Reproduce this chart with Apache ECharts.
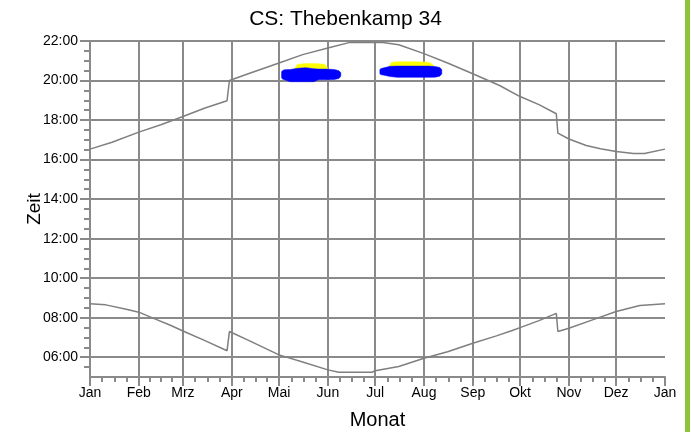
<!DOCTYPE html>
<html><head><meta charset="utf-8">
<script src="https://cdn.jsdelivr.net/npm/echarts@6/dist/echarts.min.js"></script>
<style>html,body{margin:0;padding:0;background:#fff}#c{width:691px;height:432px}</style>
</head><body><div id="c"></div>
<script>
// Month boundaries (day of year) and their labels
const monthStarts = [0,31,59,90,120,151,181,212,243,273,304,334,365];
const monthLabels = ['Jan','Feb','Mrz','Apr','Mai','Jun','Jul','Aug','Sep','Okt','Nov','Dez','Jan'];
const hourTicks = [6,8,10,12,14,16,18,20,22];

// Sunset (upper curve), hours
const sunsetDays  = [0,14,31,45,59,73,87,88.5,100,120,135,151,165,186,196,212,227,243,260,273,285,296,297,304,315,324,334,345,352,365];
const sunsetHours = [16.53,16.88,17.39,17.76,18.18,18.61,18.98,20.00,20.33,20.89,21.31,21.65,21.93,21.93,21.81,21.36,20.89,20.34,19.75,19.19,18.78,18.32,17.34,17.04,16.71,16.55,16.41,16.31,16.31,16.53];

// Sunrise (lower curve), hours
const sunriseDays  = [0,10,23,31,40,51,59,73,87,88.5,100,120,135,151,158,179,181,196,212,227,243,258,268,273,285,296,297,304,319,334,349,365];
const sunriseHours = [8.70,8.65,8.43,8.28,7.98,7.62,7.33,6.84,6.33,7.30,6.88,6.12,5.76,5.36,5.24,5.24,5.32,5.53,5.95,6.28,6.71,7.08,7.35,7.50,7.85,8.22,7.30,7.47,7.89,8.31,8.62,8.70];

// Shadow periods: May/June
const blueADays  = [121.6,122.3,123.5,127,132,137,142,145,150,155,158,159.2];
const blueAStart = [20.14,20.07,20.04,19.94,19.94,19.94,19.94,20.04,20.04,20.05,20.10,20.22];
const blueAEnd   = [20.44,20.51,20.55,20.56,20.62,20.65,20.60,20.58,20.58,20.56,20.50,20.40];
const yellowADays  = [130,131.5,135,140,145,149,151];
const yellowAStart = [20.55,20.56,20.60,20.62,20.58,20.57,20.56];
const yellowAEnd   = [20.62,20.80,20.85,20.86,20.85,20.82,20.62];

// Shadow periods: July/August
const blueBDays  = [184,184.8,186,190.5,195,205,215,219,222,223.3];
const blueBStart = [20.34,20.29,20.28,20.20,20.16,20.16,20.16,20.17,20.22,20.33];
const blueBEnd   = [20.56,20.61,20.63,20.72,20.73,20.73,20.73,20.71,20.66,20.56];
const yellowBDays  = [190,191.5,195,205,215,218];
const yellowBStart = [20.70,20.72,20.73,20.73,20.73,20.72];
const yellowBEnd   = [20.75,20.92,20.95,20.95,20.93,20.78];

// minor tick positions (quarter months, half hours)
const minorDays = [];
for (let i = 0; i < monthStarts.length - 1; i++) {
  const a = monthStarts[i], b = monthStarts[i+1];
  for (let k = 1; k < 4; k++) minorDays.push(a + (b - a) * k / 4);
}
const halfHours = [];
for (let h = 5.5; h < 22; h += 0.5) if (h % 2 !== 0) halfHours.push(h);

const pair = (xs, ys) => xs.map((x, i) => [x, ys[i]]);
const rows = (xs, a, b) => xs.map((x, i) => [x, a[i], b[i]]);

const GRID = '#8a8a8a';
const FONT = 'Liberation Sans, Arial, sans-serif';

function band(name, days, start, end, color) {
  return {
    type: 'custom', name: name, data: rows(days, start, end), z: 1, silent: true,
    encode: { x: 0, y: [1, 2] },
    renderItem: function (params, api) {
      if (params.dataIndex !== 0) return null;
      const top = days.map((d, i) => api.coord([d, end[i]]));
      const bot = days.map((d, i) => api.coord([d, start[i]])).reverse();
      return { type: 'polygon', shape: { points: top.concat(bot) },
        style: { fill: color, stroke: color, lineWidth: 0.5 } };
    }
  };
}

const chart = echarts.init(document.getElementById('c'), null, { renderer: 'canvas' });
chart.setOption({
  animation: false,
  textStyle: { fontFamily: FONT },
  title: { text: 'CS: Thebenkamp 34', left: 'center', top: 4,
    textStyle: { fontSize: 21, fontWeight: 'normal', color: '#000', fontFamily: FONT } },
  grid: { left: 90, right: 26, top: 41, bottom: 55, outerBoundsMode: 'none', containLabel: false },
  graphic: [{ type: 'rect', shape: { x: 685, y: 0, width: 5, height: 432 }, style: { fill: '#8cc43c' } }],
  xAxis: [{
    type: 'value', min: 0, max: 365, position: 'bottom',
    name: 'Monat', nameLocation: 'middle', nameGap: 33, nameMoveOverlap: false,
    nameTextStyle: { fontSize: 20, color: '#000', fontFamily: FONT },
    axisLine: { show: true, onZero: false, lineStyle: { color: GRID, width: 2 } },
    axisTick: { show: true, customValues: monthStarts, length: 9, lineStyle: { color: GRID, width: 2 } },
    axisLabel: { customValues: monthStarts, margin: 9, fontSize: 14, color: '#000', fontFamily: FONT,
      formatter: v => monthLabels[monthStarts.indexOf(v)] },
    splitLine: { show: true, showMinLine: false, showMaxLine: false, lineStyle: { color: GRID, width: 2 } }
  }, {
    type: 'value', min: 0, max: 365, position: 'bottom',
    axisLine: { show: false },
    axisTick: { show: true, customValues: minorDays, length: 5, lineStyle: { color: GRID, width: 2 } },
    axisLabel: { show: false },
    splitLine: { show: false }
  }],
  yAxis: [{
    type: 'value', min: 5, max: 22, position: 'left',
    name: 'Zeit', nameLocation: 'middle', nameGap: 46, nameMoveOverlap: false,
    nameTextStyle: { fontSize: 19, color: '#000', fontFamily: FONT },
    axisLine: { show: true, onZero: false, lineStyle: { color: GRID, width: 2 } },
    axisTick: { show: true, customValues: hourTicks, length: 10, lineStyle: { color: GRID, width: 2 } },
    axisLabel: { customValues: hourTicks, margin: 12, fontSize: 14, color: '#000', fontFamily: FONT,
      formatter: v => (v < 10 ? '0' : '') + v + ':00' },
    splitLine: { show: true, lineStyle: { color: GRID, width: 2 } }
  }, {
    type: 'value', min: 5, max: 22, position: 'left',
    axisLine: { show: false },
    axisTick: { show: true, customValues: halfHours, length: 6, lineStyle: { color: GRID, width: 2 } },
    axisLabel: { show: false },
    splitLine: { show: false }
  }],
  series: [
    band('yellowA', yellowADays, yellowAStart, yellowAEnd, '#ffff00'),
    band('yellowB', yellowBDays, yellowBStart, yellowBEnd, '#ffff00'),
    band('blueA', blueADays, blueAStart, blueAEnd, '#0000ff'),
    band('blueB', blueBDays, blueBStart, blueBEnd, '#0000ff'),
    { type: 'line', name: 'Sonnenuntergang', data: pair(sunsetDays, sunsetHours), symbol: 'none',
      lineStyle: { color: '#7f7f7f', width: 1.5 }, z: 3 },
    { type: 'line', name: 'Sonnenaufgang', data: pair(sunriseDays, sunriseHours), symbol: 'none',
      lineStyle: { color: '#7f7f7f', width: 1.5 }, z: 3 }
  ]
});
</script>
</body></html>
